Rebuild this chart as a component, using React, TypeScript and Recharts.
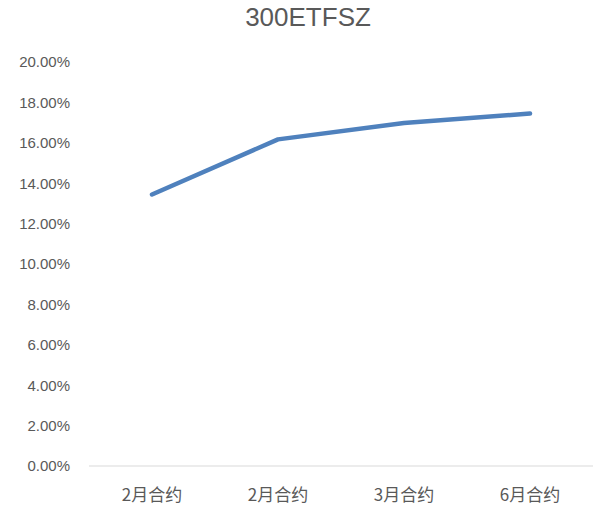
import React from 'react';
import { LineChart, Line, XAxis, YAxis } from 'recharts';

const contracts = ['2月合约', '2月合约', '3月合约', '6月合约'];
const volatility = [13.44, 16.17, 16.98, 17.45];
const yTicks = [0, 2, 4, 6, 8, 10, 12, 14, 16, 18, 20];

const data = contracts.map((name, i) => ({ name, value: volatility[i] }));

const labelColor = '#595959';

const App: React.FC = () => {
  return (
    <div style={{ position: 'absolute', left: 0, top: 0, width: 596, height: 507, background: '#fff' }}>
      <div
        style={{
          position: 'absolute',
          top: 2,
          left: 208,
          width: 200,
          textAlign: 'center',
          fontFamily: '"Liberation Sans", Arial, sans-serif',
          fontSize: 26,
          color: labelColor,
        }}
      >
        300ETFSZ
      </div>
      <LineChart
        width={596}
        height={507}
        data={data}
        margin={{ top: 62, right: 3, left: 0, bottom: 11 }}
      >
        <XAxis
          dataKey="name"
          height={30}
          padding={{ left: 63, right: 63 }}
          axisLine={{ stroke: '#d9d9d9', strokeWidth: 1 }}
          tickLine={false}
          tickSize={0}
          tickMargin={23}
          tick={{ fill: labelColor, fontSize: 17, fontFamily: '"Noto Sans CJK SC", sans-serif' }}
        />
        <YAxis
          width={89}
          domain={[0, 20]}
          ticks={yTicks}
          axisLine={false}
          tickLine={false}
          tickSize={0}
          tickMargin={19}
          tickFormatter={(v: number) => `${v.toFixed(2)}%`}
          tick={{ fill: labelColor, fontSize: 15, fontFamily: '"Liberation Sans", Arial, sans-serif' }}
        />
        <Line
          type="linear"
          dataKey="value"
          stroke="#4f81bd"
          strokeWidth={4.5}
          strokeLinecap="round"
          strokeLinejoin="round"
          dot={false}
          activeDot={false}
          isAnimationActive={false}
        />
      </LineChart>
    </div>
  );
};

export default App;
